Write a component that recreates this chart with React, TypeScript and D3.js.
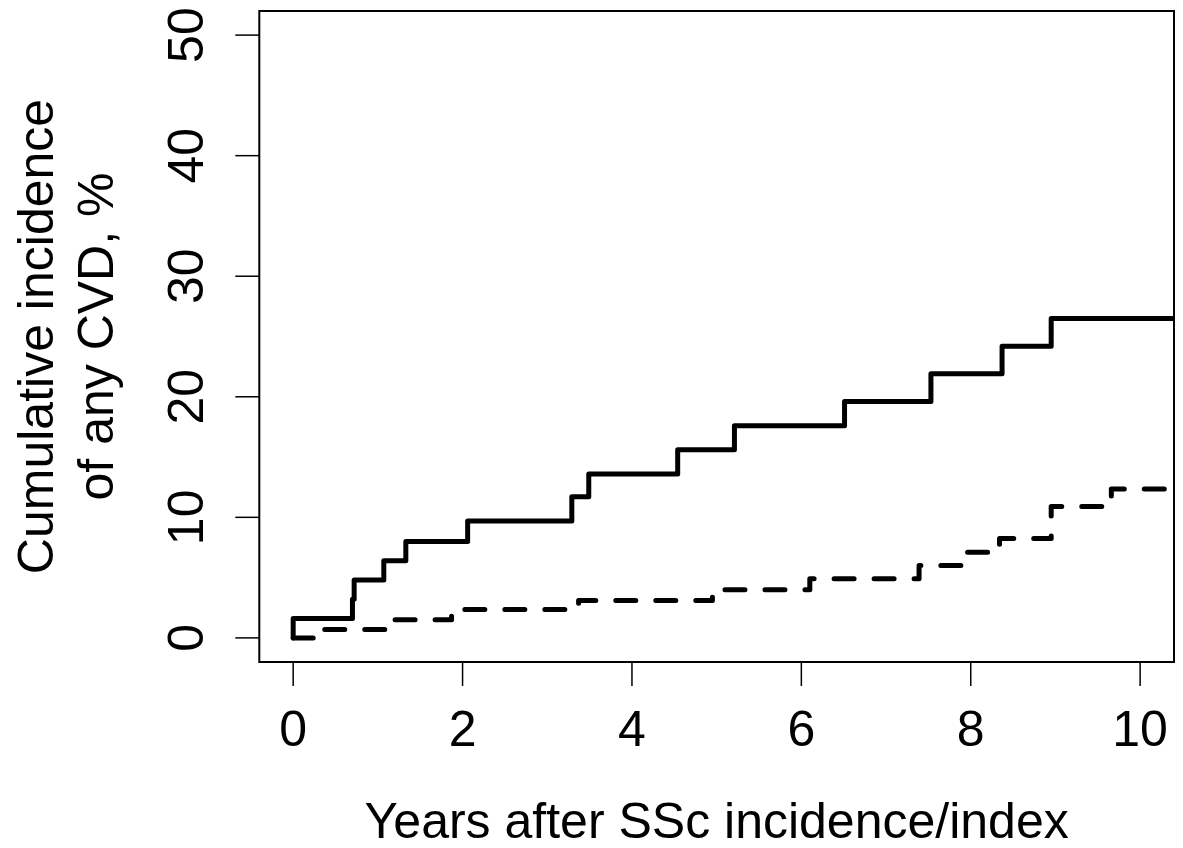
import React, { useRef, useEffect } from "react";
import * as d3 from "d3";

// SSc patients (solid) - step times (years) and cumulative incidence (%)
const sscTimes = [0, 0, 0.7, 0.72, 1.07, 1.33, 2.06, 3.29, 3.49, 4.54, 5.21, 6.51, 7.53, 8.37, 8.95, 10.8];
const sscValues = [0, 1.6, 3.2, 4.8, 6.4, 8.0, 9.7, 11.7, 13.6, 15.6, 17.6, 19.6, 21.9, 24.2, 26.5, 26.5];

// Comparison subjects (dashed)
const ctrlTimes = [0, 0.35, 1.1, 1.87, 3.37, 4.95, 6.1, 7.39, 7.9, 8.34, 8.95, 9.66, 10.8];
const ctrlValues = [0, 0.7, 1.5, 2.35, 3.1, 4.0, 4.9, 6.0, 7.1, 8.25, 10.9, 12.35, 12.35];

const xTicks = [0, 2, 4, 6, 8, 10];
const yTicks = [0, 10, 20, 30, 40, 50];

const xTitle = "Years after SSc incidence/index";
const yTitle = ["Cumulative incidence", "of any CVD, %"];

const W = 1183;
const H = 848;
const FONT = "'Liberation Sans', Arial, Helvetica, sans-serif";

const App = () => {
  const svgRef = useRef<SVGSVGElement>(null);

  useEffect(() => {
    document.body.style.margin = "0";
    const svg = d3.select(svgRef.current).attr("width", W).attr("height", H);
    svg.selectAll("*").remove();

    const left = 259.3, right = 1174, top = 11, bottom = 662;

    // R-style 4% axis extension
    const x = d3.scaleLinear().domain([-0.4, 10.4]).range([left, right]);
    const y = d3.scaleLinear().domain([-2, 52]).range([bottom, top]);

    svg.append("rect").attr("width", W).attr("height", H).attr("fill", "#fff");

    svg.append("clipPath").attr("id", "plotclip")
      .append("rect")
      .attr("x", left).attr("y", top)
      .attr("width", right - left).attr("height", bottom - top);

    const line = d3.line<[number, number]>()
      .x(d => x(d[0]))
      .y(d => y(d[1]))
      .curve(d3.curveStepAfter);

    const ssc: [number, number][] = sscTimes.map((t, i) => [t, sscValues[i]]);
    const ctrl: [number, number][] = ctrlTimes.map((t, i) => [t, ctrlValues[i]]);

    const g = svg.append("g").attr("clip-path", "url(#plotclip)");

    g.append("path")
      .attr("d", line(ctrl))
      .attr("fill", "none")
      .attr("stroke", "#000")
      .attr("stroke-width", 5)
      .attr("stroke-linecap", "round")
      .attr("stroke-linejoin", "round")
      .attr("stroke-dasharray", "20 20");

    g.append("path")
      .attr("d", line(ssc))
      .attr("fill", "none")
      .attr("stroke", "#000")
      .attr("stroke-width", 5)
      .attr("stroke-linecap", "round")
      .attr("stroke-linejoin", "round");

    // box
    svg.append("rect")
      .attr("x", left).attr("y", top)
      .attr("width", right - left).attr("height", bottom - top)
      .attr("fill", "none")
      .attr("stroke", "#000")
      .attr("stroke-width", 2);

    // x axis
    const xa = svg.append("g");
    xa.selectAll("line").data(xTicks).enter().append("line")
      .attr("x1", d => x(d)).attr("x2", d => x(d))
      .attr("y1", bottom).attr("y2", bottom + 24)
      .attr("stroke", "#000").attr("stroke-width", 1.5);
    xa.selectAll("text").data(xTicks).enter().append("text")
      .attr("x", d => x(d)).attr("y", 746)
      .attr("text-anchor", "middle")
      .attr("font-family", FONT).attr("font-size", 50)
      .text(d => d);

    // y axis
    const ya = svg.append("g");
    ya.selectAll("line").data(yTicks).enter().append("line")
      .attr("x1", left).attr("x2", left - 24)
      .attr("y1", d => y(d)).attr("y2", d => y(d))
      .attr("stroke", "#000").attr("stroke-width", 1.5);
    ya.selectAll("text").data(yTicks).enter().append("text")
      .attr("transform", d => `translate(203,${y(d)}) rotate(-90)`)
      .attr("text-anchor", "middle")
      .attr("font-family", FONT).attr("font-size", 50)
      .text(d => d);

    // titles
    svg.append("text")
      .attr("x", (left + right) / 2).attr("y", 838)
      .attr("text-anchor", "middle")
      .attr("font-family", FONT).attr("font-size", 50)
      .text(xTitle);

    const cy = (top + bottom) / 2;
    svg.selectAll(".ytitle").data(yTitle).enter().append("text")
      .attr("class", "ytitle")
      .attr("transform", (_, i) => `translate(${53 + i * 60},${cy}) rotate(-90)`)
      .attr("text-anchor", "middle")
      .attr("font-family", FONT).attr("font-size", 50)
      .text(d => d);
  }, []);

  return <svg ref={svgRef}></svg>;
};

export default App;
